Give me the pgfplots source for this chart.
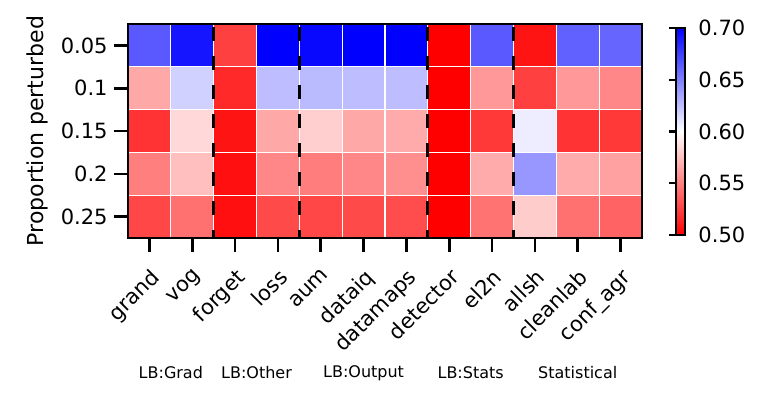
\documentclass[border=0pt]{standalone}
\usepackage{pgfplots}
\pgfplotsset{compat=1.18}
\usepackage{fontspec}
\setmainfont{DejaVu Sans}
\begin{document}
\begin{tikzpicture}
\pgfplotsset{colormap={bwrr}{rgb255=(255,0,0) rgb255=(255,255,255) rgb255=(0,0,255)}}
\path (-64pt,-77pt) rectangle (317pt,119pt);
\begin{axis}[
  at={(0,0)}, anchor=south west,
  scale only axis, width=257pt, height=107pt,
  xmin=-0.5, xmax=11.5, ymin=-0.5, ymax=4.5, y dir=reverse,
  /pgf/number format/assume math mode=true,
  axis line style={line width=1.2pt},
  xtick={0,...,11}, ytick={0,...,4},
  xticklabels={grand,vog,forget,loss,aum,dataiq,datamaps,detector,el2n,allsh,cleanlab,conf\_agr},
  yticklabels={0.05,0.1,0.15,0.2,0.25},
  tick align=outside, tick pos=left,
  major tick length=7pt,
  every tick/.style={black, line width=1.3pt},
  xticklabel style={font=\fontsize{10.5}{12}\selectfont, yshift=-6pt, rotate=45, anchor=north east, inner sep=1pt},
  yticklabel style={font=\fontsize{10.5}{12}\selectfont, inner sep=3pt},
  ylabel={Proportion perturbed},
  ylabel style={font=\fontsize{11}{13}\selectfont, yshift=0pt},
  colormap name=bwrr,
  point meta min=0.5, point meta max=0.7,
  clip=false,
  colorbar,
  colorbar style={
    at={(parent axis.north east)}, anchor=north west,
    xshift=8.5pt, yshift=-2pt,
    width=4.5pt, height=103.5pt,
    ytick={0.5,0.55,0.6,0.65,0.7},
    yticklabels={0.50,0.55,0.60,0.65,0.70},
    /pgf/number format/assume math mode=true,
    yticklabel pos=right, ytick pos=left,
    tick align=outside, major tick length=3.5pt,
    every tick/.style={black, line width=1.2pt},
    axis line style={line width=1.2pt},
    yticklabel style={font=\fontsize{10.5}{12}\selectfont, inner sep=3pt},
  },
]
\addplot[matrix plot*, mesh/cols=12, point meta=explicit] table[meta=c] {
x y c
0 0 0.665
1 0 0.692
2 0 0.525
3 0 0.700
4 0 0.697
5 0 0.700
6 0 0.700
7 0 0.500
8 0 0.665
9 0 0.508
10 0 0.662
11 0 0.660
0 1 0.566
1 1 0.618
2 1 0.516
3 1 0.626
4 1 0.627
5 1 0.626
6 1 0.626
7 1 0.500
8 1 0.560
9 1 0.525
10 1 0.560
11 1 0.553
0 2 0.520
1 2 0.585
2 2 0.508
3 2 0.566
4 2 0.581
5 2 0.566
6 2 0.567
7 2 0.500
8 2 0.522
9 2 0.607
10 2 0.520
11 2 0.522
0 3 0.550
1 3 0.575
2 3 0.506
3 3 0.553
4 3 0.549
5 3 0.553
6 3 0.556
7 3 0.500
8 3 0.567
9 3 0.641
10 3 0.567
11 3 0.563
0 4 0.528
1 4 0.544
2 4 0.506
3 4 0.529
4 4 0.528
5 4 0.529
6 4 0.530
7 4 0.500
8 4 0.545
9 4 0.580
10 4 0.544
11 4 0.539
};
\pgfplotsinvokeforeach{0.5,1.5,2.5,3.5,4.5,5.5,6.5,7.5,8.5,9.5,10.5}{\draw[white, line width=0.6pt] (axis cs:#1,-0.5) -- (axis cs:#1,4.5);}
\pgfplotsinvokeforeach{0.5,1.5,2.5,3.5}{\draw[white, line width=0.6pt] (axis cs:-0.5,#1) -- (axis cs:11.5,#1);}
\pgfplotsinvokeforeach{1.5,3.5,6.5,8.5}{\draw[black, line width=1.6pt, dash pattern=on 7pt off 7.5pt, dash phase=3pt] (axis cs:#1,4.5) -- (axis cs:#1,-0.5);}
\draw[line width=1.2pt] (axis cs:-0.5,-0.5) rectangle (axis cs:11.5,4.5);
\node[font=\fontsize{8}{9}\selectfont, yshift=-67.5pt] at (axis cs:0.5,4.5) {LB:Grad};
\node[font=\fontsize{8}{9}\selectfont, yshift=-67.5pt] at (axis cs:2.5,4.5) {LB:Other};
\node[font=\fontsize{8}{9}\selectfont, yshift=-67.5pt] at (axis cs:5,4.5) {LB:Output};
\node[font=\fontsize{8}{9}\selectfont, yshift=-67.5pt] at (axis cs:7.5,4.5) {LB:Stats};
\node[font=\fontsize{8}{9}\selectfont, yshift=-67.5pt] at (axis cs:10,4.5) {Statistical};
\end{axis}
\end{tikzpicture}
\end{document}
